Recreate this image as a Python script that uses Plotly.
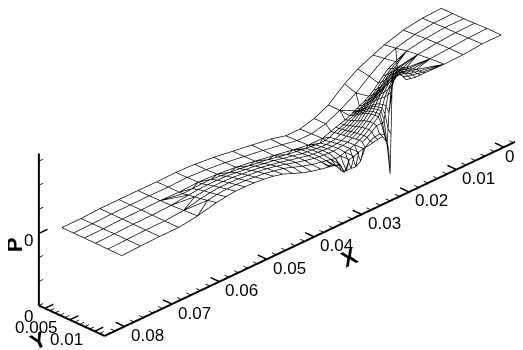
import plotly.graph_objects as go

# coarse strip along the back of the plate, columns are y_strip
x_strip = [.0006,.0046,.0086,.0126,.0150,.0182,.0210,.0244,.0274,.0304,.0334,.0366,
           .0406,.0446,.0486,.0526,.0566,.0606,.0646,.0686,.0726,.0766,.0806]
y_strip = [0,.0023,.0045]
p_strip = [[42,42,42],[41,41.5,42],[38,39,40],[32,34,36.5],[27,29,31],[20,18,18],
           [11,7,8],[-3,-3,-3],[-10,-10,-8],[-14,-13.5,-13],[-14,-13.5,-13],[-10,-10.5,-10.5],
           [-7,-7,-7],[-4,-4,-3.5],[-1,-1,-.5],[1,1,1.5],[2,2.2,2.5],[1.5,1.5,1.5],
           [1.7,1.8,2],[1.6,1.6,1.6],[1.6,1.5,1.5],[.6,.7,.7],[.5,.4,.3]]

# coarse cells at both ends, front half of the plate
y_ends = [.0067,.0092,.012]
x_right = [.0006,.0046,.0086,.0126]
p_right = [[42.5,43,43],[42,42.5,43],[40.5,41,41],[38,39.5,40.5]]
x_left = [.0646,.0686,.0726,.0766,.0806]
p_left = [[2.4,3,4],[1.5,1.4,1.3],[1.4,1.3,1.3],[.7,.7,.7],[.2,.1,0]]

# refined block downstream of the ramp
x_fine = [.0606,.0586,.0566,.0546,.0526,.0506,.0486,.0466,.0446,.0426,.0406,.0386,
          .0366,.0356,.0346,.0336,.0326,.0316,.0306,.0296]
y_fine = [.0052,.0064,.0076,.0088,.0102,.012]
p_fine = [[1.5,3,4,5,6.5,8.5],
          [2,4,5.5,6.5,8,10],
          [2.5,4.5,6,7.5,9,11],
          [2.5,4.5,6,7.5,9,11],
          [1.5,4,5.5,7,8.5,10.5],
          [.5,3,4.5,6,7.5,9.5],
          [-.5,1.5,3.5,5,6.5,8],
          [-2,.5,2,3.5,4.5,5.5],
          [-3.5,-1.5,0,1.5,2.5,1.5],
          [-5,-3,-2,-1.2,-1,-2.5],
          [-7,-5.5,-4.5,-4,-4.5,-5.6],
          [-9,-7.5,-6.8,-6.7,-7.5,-8],
          [-10.5,-9.8,-9.2,-9,-9.5,-10],
          [-11,-10.3,-9.8,-9.7,-10.5,-11],
          [-12,-10.8,-10.2,-10.2,-11.5,-12],
          [-12.5,-11.5,-10.8,-10.7,-13,-23],
          [-13,-12,-11.2,-11,-12.5,-12],
          [-13.5,-12,-11,-10.2,-11,-11],
          [-13,-11.5,-10.5,-9.5,-9.5,-9],
          [-12,-11,-9.8,-8.5,-8,-7.5]]

# dip just behind the front edge near the second spike, same x as the tail of x_fine
y_lobe = .0114
x_lobe = [.0366,.0356,.0346,.0336,.0326,.0316,.0306,.0296]
p_lobe = [-11,-12,-16,-23,-25,-25,-25.5,-22]

# very fine block on the ramp itself
x_ramp = [.0286,.0276,.0266,.0256,.0246,.0243,.024,.0238,.0236,.0232,.0226,.0216,.0206,.0196,.0186,.0176,.0166]
y_ramp = [.0045,.0052,.0058,.0064,.0070,.0076,.0082,.0088,.0095,.0102,.0108,.0114,.012]
p_ramp = [[-10,-9.5,-9,-8.5,-8,-7.5,-7,-6.5,-6,-5.5,-6,-10,-7],
          [-8,-7.5,-7,-6.5,-6,-5,-4.5,-4,-3.5,-3,-3.5,-6,-6],
          [-6.5,-6,-5,-4,-3,-2,-1,0,.5,1,0,-4,-5],
          [-5,-3.5,-2.5,-1,0,1.5,3,4,5,5,4,-3,-4.5],
          [-3,-1,1,3,5,7,8,9,9.5,9.5,4,-6,-13],
          [-2,0,2,4,6,8.5,10,11,11.5,11.5,3,-12,-21],
          [-1,1,3,5,7.5,10,12,13,14,14,6,-18,-47],
          [-.5,1.5,3.5,6,9,11,13.5,15,16,17,12,-2,-6],
          [0,2,4,7,10,12.5,15,17,19,20,20,14,38],
          [1,3,6,9,12,15,18,21,24,27,30,35,59],
          [2.5,5,8,11,14,18,21,25,29,33,38,45,60],
          [5,8,11,14,18,22,26,31,36,41,45,50,50],
          [8,11,14,18,21,25,31,36,40,44,46,45,43],
          [12,15,18,22,26,30,35,39,42,44,44,43,42],
          [17,20,23,27,31,34,37,40,41,42,42,42,41],
          [22,25,28,31,34,36,38,39,40,41,41,41,41],
          [27,29,31,33,35,36,37,38,39,40,40,40,41]]

# axes
x_range = [-.0062,.0842]
y_range = [-.0012,.012]
p_range = [-75,83]
x_major = [0,.01,.02,.03,.04,.05,.06,.07,.08]
x_labels = ['0','0.01','0.02','0.03','0.04','0.05','0.06','0.07','0.08']
x_minor = [-.004,-.002,.002,.004,.006,.008,.012,.014,.016,.018,.022,.024,.026,.028,.032,.034,.036,.038,
           .042,.044,.046,.048,.052,.054,.056,.058,.062,.064,.066,.068,.072,.074,.076,.078,.082]
y_major = [0,.005,.01]
y_labels = ['0','0.005','0.01']
y_minor = [.001,.002,.003,.004,.006,.007,.008,.009,.011]
p_major = [0]
p_labels = ['0']
p_minor = [-75,-50,-25,25,50,75]


def line_trace(segs, width):
    xs, ys, zs = [], [], []
    for a, b in segs:
        xs += [a[0], b[0], None]
        ys += [a[1], b[1], None]
        zs += [a[2], b[2], None]
    return go.Scatter3d(x=xs, y=ys, z=zs, mode='lines', hoverinfo='skip',
                        line=dict(color='black', width=width), showlegend=False)


strip = lambda i, j: (x_strip[i], y_strip[j], p_strip[i][j])
right = lambda i, j: (x_right[i], y_ends[j], p_right[i][j])
left = lambda i, j: (x_left[i], y_ends[j], p_left[i][j])
fine = lambda i, j: (x_fine[i], y_fine[j], p_fine[i][j])
ramp = lambda i, j: (x_ramp[i], y_ramp[j], p_ramp[i][j])

mesh = []

# back strip
for i in range(len(x_strip)):
    mesh.append((strip(i, 0), strip(i, 1)))
    if i < len(x_strip) - 1:
        mesh.append((strip(i, 0), strip(i + 1, 0)))
        mesh.append((strip(i, 1), strip(i + 1, 1)))
for i in range(len(x_strip) - 1):
    if x_strip[i + 1] <= .0150 or x_strip[i] >= .0304:
        mesh.append((strip(i, 2), strip(i + 1, 2)))
i_a = x_strip.index(.0150)
i_b = x_strip.index(.0304)
mesh.append((strip(i_a, 2), ramp(len(x_ramp) - 1, 0)))
mesh.append((ramp(0, 0), strip(i_b, 2)))
for i in range(len(x_strip)):
    if i_a < i < i_b:
        # triangles down to the ramp block
        for k in [0, 3, 4, 8, 10, 12, 14, 16]:
            if abs(x_ramp[k] - x_strip[i]) < .0016:
                mesh.append((strip(i, 1), ramp(k, 0)))
    else:
        mesh.append((strip(i, 1), strip(i, 2)))

# both ends
for i in range(len(x_right)):
    mesh.append((strip(i, 2), right(i, 0)))
    for j in range(2):
        mesh.append((right(i, j), right(i, j + 1)))
    if i < len(x_right) - 1:
        for j in range(3):
            mesh.append((right(i, j), right(i + 1, j)))
for i in range(len(x_left)):
    mesh.append((strip(x_strip.index(x_left[i]), 2), left(i, 0)))
    for j in range(2):
        mesh.append((left(i, j), left(i, j + 1)))
    if i < len(x_left) - 1:
        for j in range(3):
            mesh.append((left(i, j), left(i + 1, j)))

# fine block
for i in range(len(x_fine)):
    for j in range(len(y_fine) - 1):
        mesh.append((fine(i, j), fine(i, j + 1)))
    for j in range(len(y_fine)):
        if i < len(x_fine) - 1:
            mesh.append((fine(i, j), fine(i + 1, j)))
        else:
            mesh.append((fine(i, j), ramp(0, y_ramp.index(y_fine[j]))))

# lobe row in front of the second spike
for k in range(len(x_lobe)):
    a = (x_lobe[k], y_lobe, p_lobe[k])
    i = x_fine.index(x_lobe[k])
    mesh.append((fine(i, 4), a))
    mesh.append((a, fine(i, 5)))
    if k < len(x_lobe) - 1:
        mesh.append((a, (x_lobe[k + 1], y_lobe, p_lobe[k + 1])))
mesh.append(((x_lobe[-1], y_lobe, p_lobe[-1]), ramp(0, y_ramp.index(y_lobe))))

# zigzag between strip and fine block
for i in range(len(x_strip)):
    if x_strip[i] >= .0304 and x_strip[i] <= .0606:
        for k in range(len(x_fine)):
            if abs(x_fine[k] - x_strip[i]) < .0021:
                mesh.append((strip(i, 2), fine(k, 0)))

# fan from the left coarse cells into the fine block
i_l = x_strip.index(.0646)
for j in [0, 1]:
    mesh.append((strip(i_l, 2), fine(0, j)))
for j in [1, 2]:
    mesh.append((left(0, 0), fine(0, j)))
for j in [2, 3, 4]:
    mesh.append((left(0, 1), fine(0, j)))
for j in [4, 5]:
    mesh.append((left(0, 2), fine(0, j)))

# ramp block
for i in range(len(x_ramp)):
    for j in range(len(y_ramp) - 1):
        mesh.append((ramp(i, j), ramp(i, j + 1)))
    if i < len(x_ramp) - 1:
        for j in range(len(y_ramp)):
            mesh.append((ramp(i, j), ramp(i + 1, j)))

# fans from the right coarse cells into the ramp block
last = len(x_ramp) - 1
for j in [0, 1, 2]:
    mesh.append((strip(3, 2), ramp(last, j)))
for j in [3, 4, 5, 6]:
    mesh.append((right(3, 0), ramp(last, j)))
for j in [6, 7, 8, 9]:
    mesh.append((right(3, 1), ramp(last, j)))
for j in [9, 10, 11, 12]:
    mesh.append((right(3, 2), ramp(last, j)))
mesh.append((strip(3, 1), ramp(last, 3)))

# ticks point into the box
x_end, y_end, p_end = x_range[1], y_range[1], p_range[0]
big, small = .0018, .0009
major = []
minor = []
for v in x_major:
    major.append(((v, y_end, p_end), (v, y_end - big, p_end)))
for v in x_minor:
    minor.append(((v, y_end, p_end), (v, y_end - small, p_end)))
for v in y_major:
    major.append(((x_end, v, p_end), (x_end - big, v, p_end)))
for v in y_minor:
    minor.append(((x_end, v, p_end), (x_end - small, v, p_end)))
for v in p_major:
    major.append(((x_end, y_range[0], v), (x_end - big, y_range[0], v)))
for v in p_minor:
    minor.append(((x_end, y_range[0], v), (x_end - small, y_range[0], v)))

frame = [((x_range[0], y_end, p_end), (x_end, y_end, p_end)),
         ((x_end, y_range[0], p_end), (x_end, y_end, p_end)),
         ((x_end, y_range[0], p_range[0]), (x_end, y_range[0], p_range[1]))]

fig = go.Figure([line_trace(mesh, 1.4), line_trace(major, 3), line_trace(minor, 1.5),
                 line_trace(frame, 4)])

label_font = dict(family='Liberation Sans', size=17, color='black')
title_font = dict(family='Liberation Sans', size=22, color='black', weight='bold')


def axis(rng, pad):
    # small pad so marks lying on the box edge are not clipped
    return dict(range=[rng[0] - pad, rng[1] + pad], showticklabels=False, title='', showgrid=False,
                zeroline=False, showbackground=False, showspikes=False, showline=False, ticks='',
                autorange=False)


notes = []
for v, t in zip(x_major, x_labels):
    # the 0 label is nudged in, the page cuts it off otherwise
    notes.append(dict(x=v, y=y_end, z=p_end, text=t, xanchor='left', xshift=-1 if v == 0 else 4, yshift=-9))
for v, t in zip(y_major, y_labels):
    notes.append(dict(x=x_end, y=v, z=p_end, text=t, xanchor='right', xshift=-9.5, yshift=-8))
for v, t in zip(p_major, p_labels):
    notes.append(dict(x=x_end, y=y_range[0], z=v, text=t, xanchor='right', xshift=-4, yshift=-7))
for n in notes:
    n.update(showarrow=False, font=label_font)
titles = [dict(x=.0365, y=y_end, z=p_end, xshift=19, yshift=-29, text='X', textangle=-25),
          dict(x=x_end, y=y_end, z=p_end, xshift=-66, yshift=-5, text='Y', textangle=-25),
          dict(x=x_end, y=y_range[0], z=0, xshift=-25, yshift=-11, text='P', textangle=-90)]
for n in titles:
    n.update(showarrow=False, font=title_font)

fig.update_layout(
    width=523, height=350, margin=dict(l=0, r=0, t=0, b=0),
    paper_bgcolor='white', showlegend=False,
    scene=dict(
        domain=dict(x=[0, 1], y=[0, 1]),
        xaxis=axis(x_range, .0002),
        yaxis=axis(y_range, .0002),
        zaxis=axis(p_range, 1),
        aspectmode='manual',
        aspectratio=dict(x=3.502, y=.544, z=.995),
        camera=dict(
            projection=dict(type='orthographic'),
            up=dict(x=0, y=0, z=1),
            center=dict(x=.1572, y=.022, z=-.1889),
            eye=dict(x=2.0456, y=1.886, z=1.211)),
        annotations=notes + titles),
)

fig.write_html("out.html")
